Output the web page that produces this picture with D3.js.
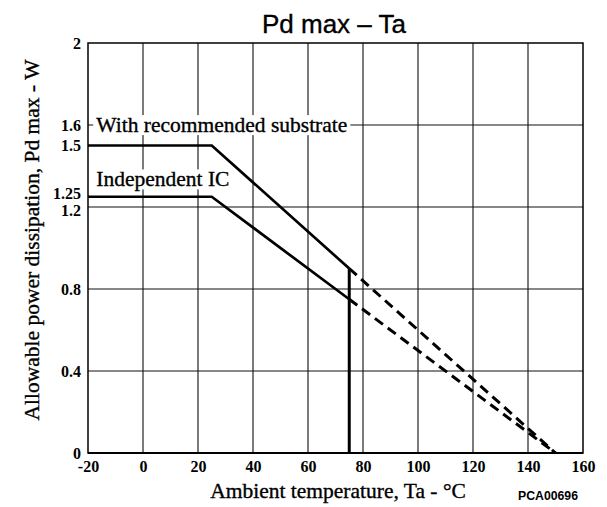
<!DOCTYPE html>
<html><head><meta charset="utf-8">
<script src="https://cdn.jsdelivr.net/npm/d3@7"></script>
<style>body{margin:0;background:#fff}</style>
</head><body>
<svg id="c" width="607" height="507"></svg>
<script>
const xTicks = [-20, 0, 20, 40, 60, 80, 100, 120, 140, 160];
const yGrid = [0.4, 0.8, 1.2, 1.6];
const yTickLabels = [0, 0.4, 0.8, 1.2, 1.25, 1.5, 1.6, 2];
const substrateSolid = [[-20, 1.5], [25, 1.5], [75, 0.9]];
const substrateDashed = [[75, 0.9], [150, 0]];
const icSolid = [[-20, 1.25], [25, 1.25], [75, 0.75]];
const icDashed = [[75, 0.75], [150, 0]];
const limitLine = [[75, 0], [75, 0.9]];
const seriesLabels = [
  {text: "With recommended substrate", x: -17, y: 1.6},
  {text: "Independent IC", x: -17, y: 1.335}
];

const svg = d3.select("#c");
const x = d3.scaleLinear().domain([-20, 160]).range([88, 583]);
const y = d3.scaleLinear().domain([0, 2]).range([453, 43]);

// grid
svg.append("g").selectAll("line").data(xTicks.slice(1, -1)).join("line")
  .attr("x1", d => x(d)).attr("x2", d => x(d)).attr("y1", y(0)).attr("y2", y(2))
  .attr("stroke", "#222").attr("stroke-width", 1.2);
svg.append("g").selectAll("line").data(yGrid).join("line")
  .attr("x1", x(-20)).attr("x2", x(160)).attr("y1", d => y(d)).attr("y2", d => y(d))
  .attr("stroke", "#111").attr("stroke-width", 1.2);

// frame
svg.append("rect").attr("x", x(-20)).attr("y", y(2)).attr("width", x(160) - x(-20)).attr("height", y(0) - y(2))
  .attr("fill", "none").attr("stroke", "#000").attr("stroke-width", 1.5);
svg.append("line").attr("x1", x(-20)).attr("x2", x(160)).attr("y1", y(0)).attr("y2", y(0))
  .attr("stroke", "#000").attr("stroke-width", 2);

// axes labels (via d3 axes, domain hidden)
const xAxis = svg.append("g").attr("transform", `translate(0,${y(0)})`)
  .call(d3.axisBottom(x).tickValues(xTicks).tickSize(0).tickPadding(8).tickFormat(d => String(d)));
xAxis.select(".domain").remove();
xAxis.selectAll("text").attr("font-family", "Liberation Serif").attr("font-weight", "bold")
  .attr("font-size", 16).attr("fill", "#000");

const yAxis = svg.append("g").attr("transform", `translate(${x(-20)},0)`)
  .call(d3.axisLeft(y).tickValues(yTickLabels).tickSize(0).tickPadding(7).tickFormat(d => String(d)));
yAxis.select(".domain").remove();
yAxis.selectAll("text").attr("font-family", "Liberation Serif").attr("font-weight", "bold")
  .attr("font-size", 16).attr("fill", "#000")
  .attr("dy", d => d === 1.25 ? "0.1em" : d === 1.2 ? "0.55em" : "0.32em");

const heavy = sel => sel.attr("stroke", "#000").attr("stroke-width", 0.35);

// series labels with white background
seriesLabels.forEach(l => {
  const g = svg.append("g");
  const bg = g.append("rect").attr("fill", "#fff");
  const t = g.append("text").attr("x", x(l.x)).attr("y", y(l.y)).attr("dy", "0.33em")
    .attr("font-family", "Liberation Serif").attr("font-size", 21.5).attr("fill", "#000").text(l.text);
  heavy(t);
  const bb = t.node().getBBox();
  bg.attr("x", bb.x - 3).attr("y", bb.y + 2).attr("width", bb.width + 6).attr("height", bb.height - 4);
});

const line = d3.line().x(d => x(d[0])).y(d => y(d[1]));
[substrateSolid, icSolid].forEach(d => svg.append("path").attr("d", line(d)).attr("fill", "none")
  .attr("stroke", "#000").attr("stroke-width", 2.7));
[substrateDashed, icDashed].forEach(d => svg.append("path").attr("d", line(d)).attr("fill", "none")
  .attr("stroke", "#000").attr("stroke-width", 3).attr("stroke-dasharray", "10,6"));
svg.append("path").attr("d", line(limitLine)).attr("stroke", "#000").attr("stroke-width", 3);

// titles
svg.append("text").attr("x", 334).attr("y", 33).attr("text-anchor", "middle")
  .attr("font-family", "Liberation Sans").attr("font-size", 26).attr("fill", "#000").text("Pd max – Ta")
  .call(heavy);
svg.append("text").attr("x", 338).attr("y", 498).attr("text-anchor", "middle")
  .attr("font-family", "Liberation Serif").attr("font-size", 21.5).attr("fill", "#000").text("Ambient temperature, Ta - °C")
  .call(heavy);
svg.append("text").attr("transform", "translate(39,240) rotate(-90)").attr("text-anchor", "middle")
  .attr("font-family", "Liberation Serif").attr("font-size", 21.5).attr("fill", "#000").text("Allowable power dissipation, Pd max - W")
  .call(heavy);
svg.append("text").attr("x", 548).attr("y", 500).attr("text-anchor", "middle")
  .attr("font-family", "Liberation Sans").attr("font-weight", "bold").attr("font-size", 12).attr("fill", "#000")
  .attr("textLength", 60).attr("lengthAdjust", "spacingAndGlyphs").text("PCA00696");
</script>
</body></html>
